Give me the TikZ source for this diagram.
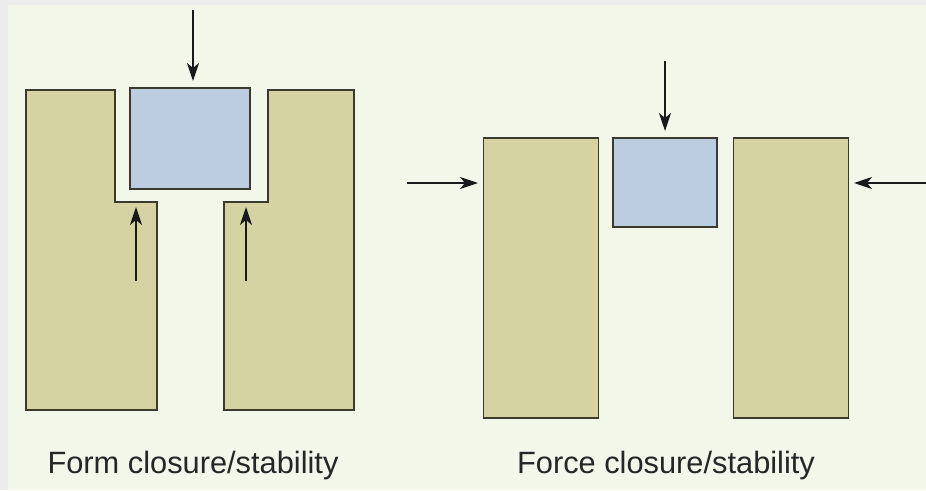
\documentclass[tikz,border=0pt]{standalone}
\usepackage{fontspec}
\setmainfont{Liberation Sans}
\usetikzlibrary{arrows.meta}
\definecolor{frame}{HTML}{ECECEC}
\definecolor{panel}{HTML}{F3F7EA}
\definecolor{tan}{HTML}{D6D3A3}
\definecolor{blk}{HTML}{BDCDE0}
\definecolor{edge}{HTML}{3A3A2E}
\tikzset{
  wall/.style={fill=tan, draw=edge, line width=1.8pt},
  block/.style={fill=blk, draw=edge, line width=1.8pt},
  force/.style={draw=black!90, line width=1.5pt, -{Stealth[length=18pt,width=12pt,inset=5pt]}},
  caption/.style={font=\fontsize{30.8}{36}\selectfont, text=black!85, anchor=base}
}
\begin{document}
\begin{tikzpicture}[x=1pt,y=-1pt]
\useasboundingbox (0,0) rectangle (926,490);
\fill[frame] (0,0) rectangle (926,490);
\fill[panel] (8,5) rectangle (926,490);
% ---- left: form closure
\draw[wall] (26,90) -- (115,90) -- (115,202) -- (157,202) -- (157,410) -- (26,410) -- cycle;
\draw[wall] (268,90) -- (354,90) -- (354,410) -- (224,410) -- (224,202) -- (268,202) -- cycle;
\node[block, minimum width=120pt, minimum height=101pt, inner sep=0pt] (fb) at (190,138.5) {};
\coordinate (ft) at (193,10);
\coordinate (fbt) at (193,81);
\draw[force] (ft) -- (fbt);
\coordinate (la0) at (136,281);
\coordinate (la1) at (136,207);
\coordinate (ra0) at (246,281);
\coordinate (ra1) at (246,207);
\draw[force] (la0) -- (la1);
\draw[force] (ra0) -- (ra1);
\node[caption] (fc) at (193,473) {Form closure/stability};
% ---- right: force closure
\node[wall, minimum width=115pt, minimum height=280pt, inner sep=0pt] (lw) at (541,278) {};
\node[wall, minimum width=115pt, minimum height=280pt, inner sep=0pt] (rw) at (791,278) {};
\node[block, minimum width=104pt, minimum height=89pt, inner sep=0pt] (bb) at (665,182.5) {};
\coordinate (bt) at (665,61);
\coordinate (btip) at (665,131);
\draw[force] (bt) -- (btip);
\coordinate (lf) at (407,183);
\coordinate (lftip) at (478,183);
\draw[force] (lf) -- (lftip);
\coordinate (rf) at (926,183);
\coordinate (rftip) at (854,183);
\draw[force] (rf) -- (rftip);
\node[caption] (kc) at (666,473) {Force closure/stability};
\end{tikzpicture}
\end{document}
